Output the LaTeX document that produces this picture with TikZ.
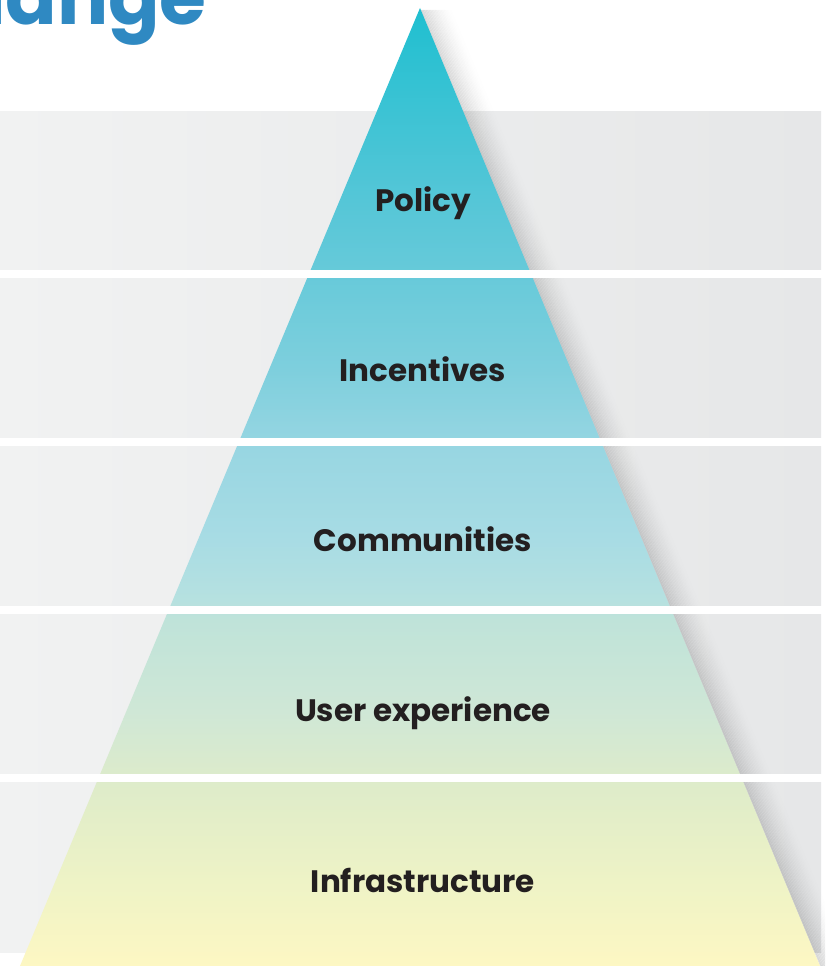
\documentclass[tikz,border=0pt]{standalone}
\usepackage{fontspec}
\setmainfont{Poppins}
\definecolor{titleblue}{RGB}{47,137,194}
\definecolor{labeltext}{HTML}{231F20}
\definecolor{bandleft}{HTML}{F1F2F2}
\definecolor{bandright}{HTML}{E6E7E8}
\definecolor{pA}{HTML}{1FBFD0}
\definecolor{pB}{HTML}{3CC3D4}
\definecolor{pC}{HTML}{55C6D7}
\definecolor{pD}{HTML}{7ECFDD}
\definecolor{pE}{HTML}{98D6E2}
\definecolor{pF}{HTML}{A8DCE4}
\definecolor{pG}{HTML}{B6E1E0}
\definecolor{pH}{HTML}{BFE3D9}
\definecolor{pI}{HTML}{CFE7D6}
\definecolor{pJ}{HTML}{DFECC9}
\definecolor{pK}{HTML}{EEF3C6}
\definecolor{pL}{HTML}{FDF7C3}
\pgfdeclareverticalshading{pyramidshade}{100bp}{color(0bp)=(pL); color(25bp)=(pL); color(29.44bp)=(pK); color(34.19bp)=(pJ); color(38.31bp)=(pI); color(43.06bp)=(pH); color(44.10bp)=(pG); color(47.23bp)=(pF); color(51.93bp)=(pE); color(56.11bp)=(pD); color(64.98bp)=(pC); color(69.68bp)=(pB); color(75bp)=(pA); color(100bp)=(pA)}
\tikzset{
  band/.style={left color=bandleft, right color=bandright, draw=none},
  gap/.style={fill=white, draw=none},
  layerlabel/.style={text=labeltext, inner sep=0pt, anchor=base, font=\bfseries\fontsize{31}{37}\selectfont},
}
\begin{document}
\begin{tikzpicture}[x=1pt,y=-1pt]
\useasboundingbox (0,0) rectangle (825,966);
\clip (0,0) rectangle (825,966);
\fill[white] (0,0) rectangle (825,966);
% title fragment
\node[anchor=base east, inner sep=0pt, text=titleblue, font=\bfseries\fontsize{76}{80}\selectfont] (title) at (207,25) {change};
% grey bands
\fill[band] (0,111) rectangle (821,952);
% shadow to the right of the pyramid
\foreach \i in {0,...,21}{
  \pgfmathsetmacro\op{0.13*(1-\i/22)^1.6}
  \fill[black, opacity=\op] (420+1.5*\i,10) -- (820+1.5*\i,966) -- (821.6+1.5*\i,966) -- (421.6+1.5*\i,10) -- cycle;
}
% pyramid
\path[shading=pyramidshade] (420,8) -- (820,966) -- (20,966) -- cycle;
% white gaps between layers
\fill[gap] (0,270) rectangle (825,278);
\fill[gap] (0,438) rectangle (825,446);
\fill[gap] (0,606) rectangle (825,614);
\fill[gap] (0,774) rectangle (825,782);
% labels
\node[layerlabel] (policy) at (423,211) {Policy};
\node[layerlabel] (incentives) at (423,381) {Incentives};
\node[layerlabel] (communities) at (423,551) {Communities};
\node[layerlabel] (ux) at (423,721) {User experience};
\node[layerlabel] (infra) at (423,892) {Infrastructure};
\end{tikzpicture}
\end{document}
